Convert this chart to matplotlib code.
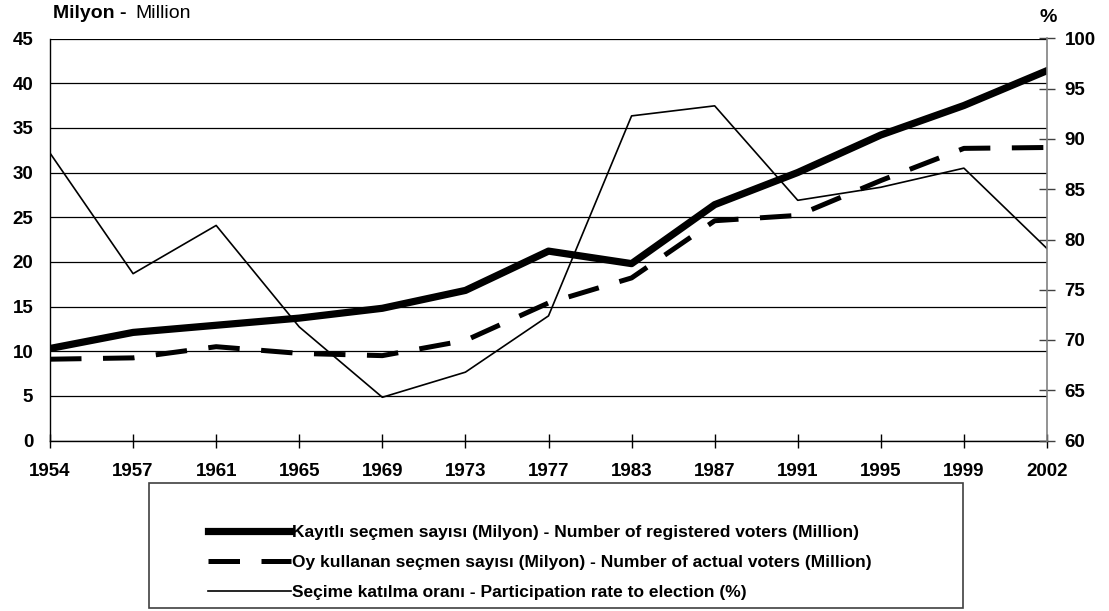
import matplotlib.pyplot as plt
from matplotlib.patches import Rectangle

plt.rcParams['font.family'] = ['Liberation Sans', 'DejaVu Sans']

# Data
years = ['1954', '1957', '1961', '1965', '1969', '1973', '1977',
         '1983', '1987', '1991', '1995', '1999', '2002']
registered = [10.3, 12.1, 12.9, 13.7, 14.8, 16.8, 21.2,
              19.8, 26.4, 30.0, 34.2, 37.5, 41.4]
actual = [9.1, 9.25, 10.5, 9.75, 9.5, 11.2, 15.4,
          18.2, 24.6, 25.2, 29.1, 32.7, 32.8]
participation = [88.6, 76.6, 81.4, 71.3, 64.3, 66.8, 72.4,
                 92.3, 93.3, 83.9, 85.2, 87.1, 79.1]

labels = ['Kayıtlı seçmen sayısı (Milyon) - Number of registered voters (Million)',
          'Oy kullanan seçmen sayısı (Milyon) - Number of actual voters (Million)',
          'Seçime katılma oranı - Participation rate to election (%)']

fig = plt.figure(figsize=(11.09, 6.11), dpi=100)
ax = fig.add_axes([50 / 1109, 1 - 440.5 / 611, 997 / 1109, 402 / 611])
ax2 = ax.twinx()

x = list(range(len(years)))
l1, = ax.plot(x, registered, color='black', lw=5.2, solid_joinstyle='round')
l2, = ax.plot(x, actual, color='black', lw=3.6, dashes=(6.3, 4.3))
l3, = ax2.plot(x, participation, color='black', lw=1.2)

ax.set_xlim(0, len(years) - 1)
ax.set_ylim(0, 45)
ax.set_yticks(range(0, 50, 5))
ax2.set_ylim(60, 100)
ax2.set_yticks(range(60, 105, 5))
ax.set_xticks(x)
ax.set_xticklabels(years)

ax.yaxis.grid(True, color='black', lw=0.9)
ax.set_axisbelow(True)
ax.spines['top'].set_visible(False)
ax2.spines['top'].set_visible(False)
ax.spines['right'].set_visible(False)
ax2.spines['left'].set_visible(False)
ax2.spines['bottom'].set_visible(False)
ax2.spines['right'].set_color('#808080')
ax2.spines['right'].set_linewidth(1.2)
ax.spines['left'].set_linewidth(1.0)
ax.spines['bottom'].set_linewidth(1.0)

ax.tick_params(axis='y', length=0, pad=12, labelsize=13.5)
ax.tick_params(axis='x', length=10, width=1, direction='inout', pad=11, labelsize=13.5)
ax2.tick_params(axis='y', length=11.5, width=1, direction='inout', pad=7,
                labelsize=13.5, color='#404040')
for lab in ax.get_xticklabels() + ax.get_yticklabels() + ax2.get_yticklabels():
    lab.set_fontweight('bold')

fig.text(53 / 1109, 1 - 14 / 611, 'Milyon -', fontsize=14, fontweight='bold',
         va='center', ha='left')
fig.text(135 / 1109, 1 - 14 / 611, 'Million', fontsize=14, va='center', ha='left')
fig.text(1048 / 1109, 1 - 17 / 611, '%', fontsize=14, fontweight='bold',
         va='center', ha='center')

fig.patches.append(Rectangle((149 / 1109, 1 - 608 / 611), 814 / 1109, 125 / 611,
                             transform=fig.transFigure, fill=False,
                             edgecolor='#404040', lw=1.2))
leg = fig.legend([l1, l2, l3], labels, loc='center left',
                 bbox_to_anchor=(208 / 1109, 1 - 562.5 / 611), frameon=False,
                 prop=dict(size=12.5, weight='bold'), handlelength=4.8,
                 handletextpad=0.05, labelspacing=0.85, borderpad=0,
                 borderaxespad=0)

fig.savefig('out.png', dpi=100)
